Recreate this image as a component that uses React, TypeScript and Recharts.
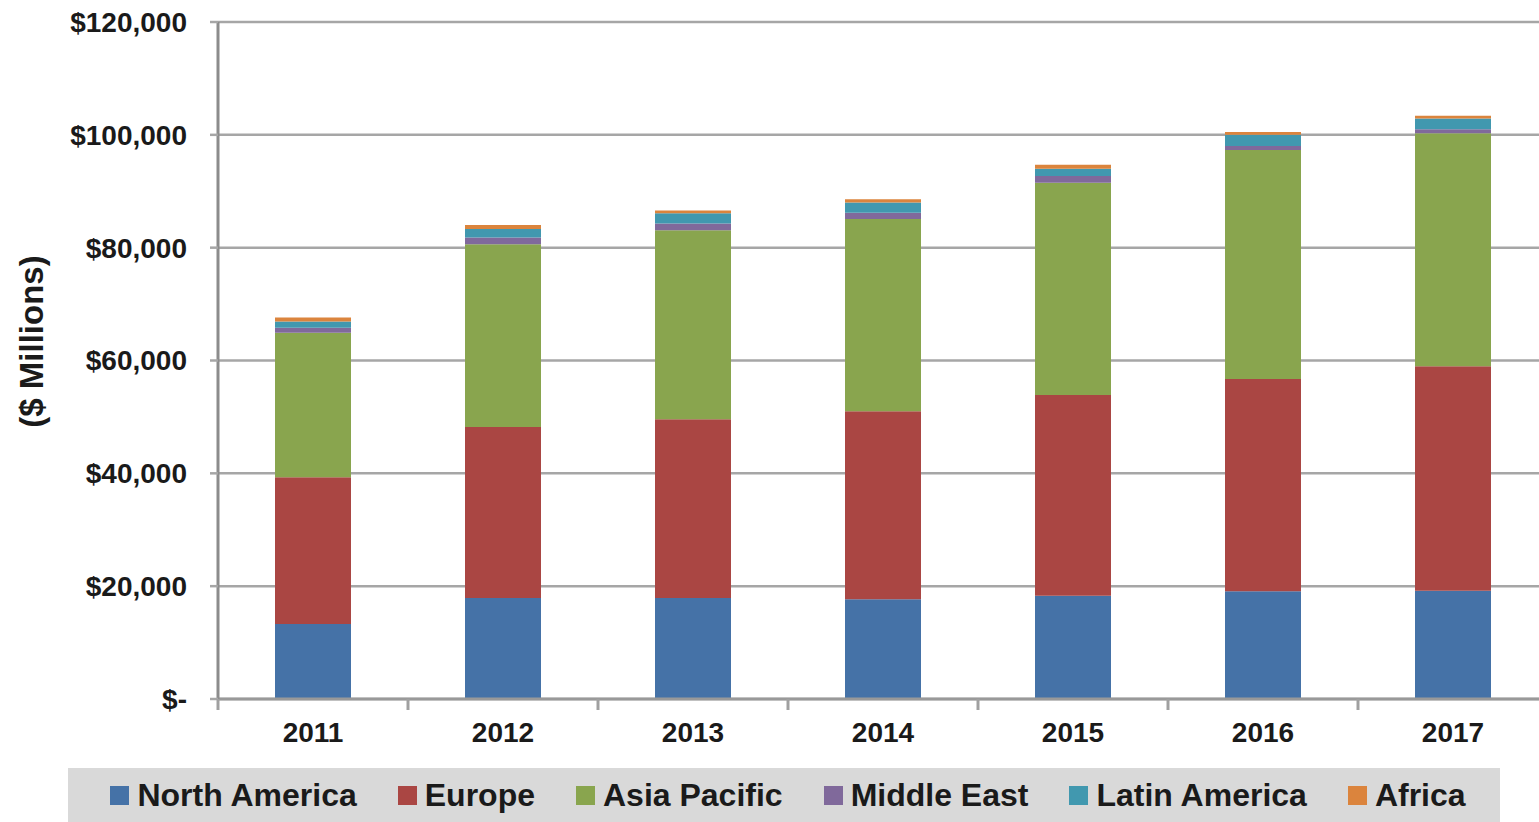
import React from 'react';
import { BarChart, Bar, XAxis, YAxis, CartesianGrid, Legend } from 'recharts';

const years = ['2011', '2012', '2013', '2014', '2015', '2016', '2017'];
const northAmerica = [13300, 17900, 17900, 17700, 18300, 19100, 19200];
const europe = [26000, 30300, 31700, 33300, 35600, 37600, 39800];
const asiaPacific = [25600, 32400, 33500, 34100, 37600, 40600, 41300];
const middleEast = [900, 1200, 1200, 1100, 1200, 700, 700];
const latinAmerica = [1100, 1500, 1800, 1800, 1300, 2000, 1900];
const africa = [700, 700, 500, 600, 700, 500, 500];

const yTicks = [0, 20000, 40000, 60000, 80000, 100000, 120000];

const series = [
  { key: 'northAmerica', name: 'North America', color: '#4572A7', values: northAmerica },
  { key: 'europe', name: 'Europe', color: '#AA4643', values: europe },
  { key: 'asiaPacific', name: 'Asia Pacific', color: '#89A54E', values: asiaPacific },
  { key: 'middleEast', name: 'Middle East', color: '#80699B', values: middleEast },
  { key: 'latinAmerica', name: 'Latin America', color: '#4198AF', values: latinAmerica },
  { key: 'africa', name: 'Africa', color: '#DB843D', values: africa },
];

const data = years.map((year, i) => {
  const row: Record<string, string | number> = { year };
  series.forEach(s => {
    row[s.key] = s.values[i];
  });
  return row;
});

const FONT = '"Liberation Sans", Arial, sans-serif';
const X_TICK_MARGIN = 23;

const formatMoney = (v: number) => (v === 0 ? '$-' : '$' + v.toLocaleString('en-US'));

// category label plus the Excel-style tick marks between categories
const YearTick = (props: any) => {
  const { x, y, payload, index } = props;
  const half = payload.offset || 0;
  const axisY = y - X_TICK_MARGIN;
  const last = index === years.length - 1;
  return (
    <g>
      <line x1={x - half} x2={x - half} y1={axisY} y2={axisY + 11} stroke="#A0A0A0" strokeWidth={3} />
      {last && <line x1={x + half} x2={x + half} y1={axisY} y2={axisY + 11} stroke="#A0A0A0" strokeWidth={3} />}
      <text
        x={x}
        y={y}
        dy="0.71em"
        textAnchor="middle"
        fontFamily={FONT}
        fontWeight="bold"
        fontSize={28}
        fill="#1a1a1a"
      >
        {payload.value}
      </text>
    </g>
  );
};

const renderLegend = () => (
  <div
    style={{
      height: 54,
      background: '#D9D9D9',
      display: 'flex',
      justifyContent: 'center',
      alignItems: 'center',
      fontFamily: FONT,
      fontWeight: 'bold',
      fontSize: 32,
      color: '#1a1a1a',
      paddingLeft: 8,
      boxSizing: 'border-box',
    }}
  >
    {series.map((s, i) => (
      <div
        key={s.key}
        style={{ display: 'flex', alignItems: 'center', marginRight: i === series.length - 1 ? 0 : 41 }}
      >
        <span style={{ width: 19, height: 19, background: s.color, marginRight: 8, display: 'inline-block' }} />
        <span style={{ lineHeight: '54px' }}>{s.name}</span>
      </div>
    ))}
  </div>
);

const renderYLabel = (props: any) => {
  const vb = props.viewBox || { x: 0, y: 0, width: 0, height: 0 };
  const cx = 31;
  const cy = vb.y + vb.height / 2 - 19;
  return (
    <text
      x={cx}
      y={cy}
      transform={`rotate(-90, ${cx}, ${cy})`}
      textAnchor="middle"
      dominantBaseline="central"
      fontFamily={FONT}
      fontWeight="bold"
      fontSize={33}
      fill="#1a1a1a"
    >
      ($ Millions)
    </text>
  );
};

export default function App() {
  return (
    <div style={{ position: 'absolute', left: 0, top: 0, width: 1539, height: 822, overflow: 'hidden', background: '#fff' }}>
      <BarChart
        width={1560}
        height={822}
        data={data}
        margin={{ top: 22, right: 12, bottom: 0, left: 0 }}
        barSize={76}
      >
        <CartesianGrid vertical={false} stroke="#A6A6A6" strokeWidth={2.5} />
        <XAxis
          dataKey="year"
          axisLine={{ stroke: '#999999', strokeWidth: 3 }}
          tickLine={false}
          tickSize={0}
          tickMargin={X_TICK_MARGIN}
          height={69}
          interval={0}
          tick={<YearTick />}
        />
        <YAxis
          width={218}
          domain={[0, 120000]}
          ticks={yTicks}
          tickFormatter={formatMoney}
          axisLine={{ stroke: '#8C8C8C', strokeWidth: 3 }}
          tickLine={{ stroke: '#A6A6A6', strokeWidth: 2.5 }}
          tickSize={8}
          tickMargin={23}
          tick={{ fontFamily: FONT, fontWeight: 'bold', fontSize: 28, fill: '#1a1a1a' }}
          label={{ content: renderYLabel }}
        />
        <Legend
          verticalAlign="bottom"
          content={renderLegend}
          wrapperStyle={{ left: 68, width: 1432, height: 54, bottom: 0 }}
        />
        {series.map(s => (
          <Bar
            key={s.key}
            dataKey={s.key}
            name={s.name}
            stackId="a"
            fill={s.color}
            isAnimationActive={false}
          />
        ))}
      </BarChart>
    </div>
  );
}
